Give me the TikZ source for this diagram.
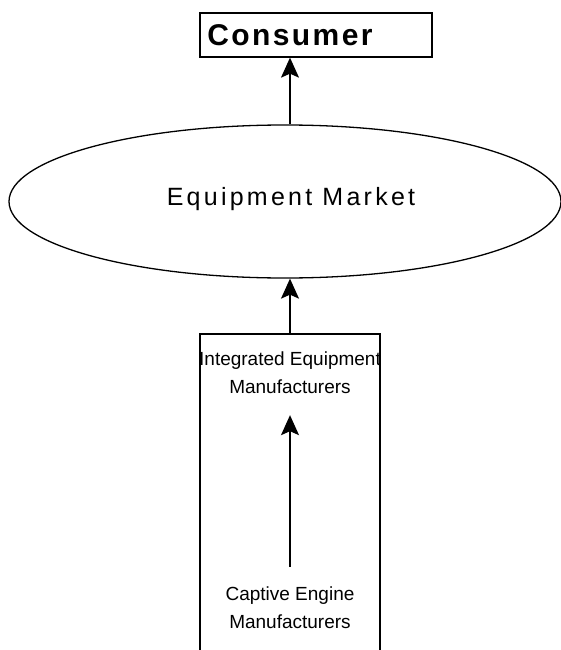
\documentclass[tikz,border=0pt]{standalone}
\usepackage{fontspec}
\setmainfont{Liberation Sans}
\usetikzlibrary{arrows.meta,shapes.geometric}
\newfontfamily\widefont[LetterSpace=13]{Liberation Sans}
\newfontfamily\boldwide[LetterSpace=8]{Liberation Sans Bold}
\tikzset{>={Stealth[length=20pt,width=18pt,inset=4pt]},every node/.style={font=\fontsize{19}{28}\selectfont},
flow/.style={line width=1.3pt,->},edge/.style={line width=1.3pt},
labeltext/.style={align=center,inner sep=0pt}}
\begin{document}
\begin{tikzpicture}[x=1pt,y=-1pt]
\useasboundingbox (0,0) rectangle (561,650);\clip (0,0) rectangle (561,650);
\node[draw,line width=1.3pt,minimum width=232pt,minimum height=44pt] (consumer) at (316,35) {};
\node[labeltext,font=\boldwide\fontsize{30}{30}\selectfont] (consumertext) at (290,35) {Consumer};
\node[draw,ellipse,line width=1.3pt,minimum width=552pt,minimum height=153pt] (market) at (285,201.5) {};
\node[labeltext,font=\widefont\fontsize{25}{28}\selectfont] (markettext) at (291,199) {Equipment Market};
\draw[edge] (200,680) |- (380,334) -- (380,680);
\node[labeltext] (integrated) at (290,373) {Integrated Equipment\\Manufacturers};
\node[labeltext] (captive) at (290,608) {Captive Engine\\Manufacturers};
\draw[flow] ([xshift=5pt]market.north) -- (consumertext |- consumer.south);
\draw[flow] (integrated |- 0,334) -- ([xshift=5pt]market.south);
\draw[flow] ([yshift=20pt]captive.north) -- ([yshift=-21pt]integrated.south);
\end{tikzpicture}
\end{document}
